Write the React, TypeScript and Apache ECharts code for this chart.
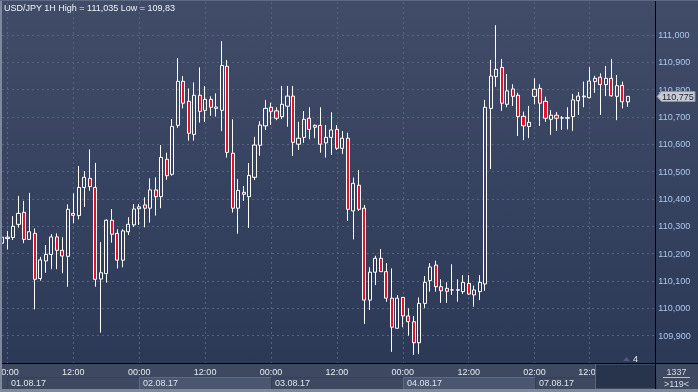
import React, { useEffect, useRef } from 'react';
import * as echarts from 'echarts';

const FONT = '"Liberation Sans", Arial, sans-serif';

// trading sessions: [date, first hour, last hour]
const sessions: [string, number, number][] = [
  ['31.07.17', 23, 23],
  ['01.08.17', 0, 23],
  ['02.08.17', 0, 23],
  ['03.08.17', 0, 23],
  ['04.08.17', 0, 23],
  ['07.08.17', 2, 23],
  ['08.08.17', 0, 0],
];

const timeTicks = [
  '01.08.17 00:00', '01.08.17 12:00', '02.08.17 00:00', '02.08.17 12:00',
  '03.08.17 00:00', '03.08.17 12:00', '04.08.17 00:00', '04.08.17 12:00',
  '07.08.17 02:00', '07.08.17 12:00',
];
const dateLabels = ['01.08.17', '02.08.17', '03.08.17', '04.08.17', '07.08.17'];
const priceTicks = [109.9, 110.0, 110.1, 110.2, 110.3, 110.4, 110.5, 110.6, 110.7, 110.8, 110.9, 111.0];

const openP = [
  110.238, 110.255, 110.259, 110.307, 110.351, 110.252, 110.274, 110.109, 110.173, 110.197,
  110.261, 110.212, 110.190, 110.347, 110.339, 110.442, 110.475, 110.442, 110.107, 110.127,
  110.322, 110.274, 110.176, 110.280, 110.305, 110.364, 110.378, 110.366, 110.433, 110.408,
  110.545, 110.490, 110.669, 110.830, 110.757, 110.636, 110.779, 110.724, 110.764, 110.731,
  110.724, 110.885, 110.567, 110.366, 110.424, 110.408, 110.479, 110.596, 110.667, 110.735,
  110.722, 110.701, 110.739, 110.776, 110.600, 110.625, 110.695, 110.662, 110.669, 110.605,
  110.625, 110.654, 110.585, 110.622, 110.356, 110.450, 110.366, 110.030, 110.132, 110.183,
  110.134, 110.037, 109.927, 110.040, 109.972, 109.951, 109.874, 110.018, 110.101, 110.158,
  110.079, 110.073, 110.067, 110.066, 110.061, 110.091, 110.049, 110.061, 110.089, 110.731,
  110.847, 110.881, 110.746, 110.802, 110.779, 110.702, 110.665, 110.775, 110.804, 110.757,
  110.691, 110.706, 110.696, 110.695, 110.701, 110.759, 110.773, 110.770, 110.829, 110.845,
  110.818, 110.841, 110.775, 110.815, 110.755,
];
const closeP = [
  110.260, 110.260, 110.300, 110.347, 110.252, 110.280, 110.106, 110.177, 110.197, 110.261,
  110.212, 110.191, 110.362, 110.340, 110.442, 110.479, 110.445, 110.106, 110.130, 110.322,
  110.271, 110.176, 110.283, 110.307, 110.363, 110.371, 110.366, 110.433, 110.408, 110.552,
  110.485, 110.665, 110.830, 110.750, 110.640, 110.779, 110.720, 110.764, 110.735, 110.736,
  110.888, 110.570, 110.366, 110.431, 110.417, 110.486, 110.597, 110.670, 110.731, 110.720,
  110.695, 110.746, 110.776, 110.607, 110.622, 110.691, 110.654, 110.669, 110.600, 110.625,
  110.652, 110.585, 110.622, 110.362, 110.457, 110.362, 110.030, 110.132, 110.183, 110.134,
  110.037, 109.931, 110.037, 109.972, 109.951, 109.874, 110.018, 110.095, 110.151, 110.079,
  110.064, 110.062, 110.067, 110.068, 110.095, 110.052, 110.067, 110.095, 110.735, 110.849,
  110.874, 110.750, 110.795, 110.775, 110.701, 110.667, 110.680, 110.801, 110.750, 110.695,
  110.706, 110.695, 110.696, 110.697, 110.762, 110.776, 110.776, 110.831, 110.841, 110.818,
  110.841, 110.777, 110.814, 110.755, 110.775,
];
const lowP = [
  110.235, 110.215, 110.250, 110.295, 110.238, 110.251, 109.996, 110.101, 110.130, 110.143,
  110.143, 110.128, 110.079, 110.311, 110.325, 110.371, 110.430, 110.079, 109.911, 110.094,
  110.240, 110.146, 110.150, 110.268, 110.297, 110.305, 110.296, 110.313, 110.339, 110.366,
  110.470, 110.485, 110.660, 110.731, 110.613, 110.613, 110.679, 110.682, 110.704, 110.701,
  110.648, 110.551, 110.350, 110.273, 110.393, 110.294, 110.469, 110.558, 110.652, 110.670,
  110.688, 110.692, 110.664, 110.557, 110.579, 110.605, 110.618, 110.622, 110.569, 110.551,
  110.561, 110.579, 110.564, 110.320, 110.252, 110.356, 109.943, 109.994, 110.085, 110.133,
  110.024, 109.841, 109.926, 109.931, 109.900, 109.830, 109.832, 110.000, 110.061, 110.061,
  110.020, 110.020, 110.049, 110.024, 110.052, 110.049, 110.006, 110.030, 110.064, 110.509,
  110.810, 110.722, 110.735, 110.740, 110.630, 110.615, 110.622, 110.746, 110.667, 110.682,
  110.634, 110.649, 110.652, 110.654, 110.648, 110.707, 110.735, 110.768, 110.788, 110.707,
  110.776, 110.774, 110.688, 110.731, 110.737,
];
const highP = [
  110.263, 110.283, 110.337, 110.411, 110.393, 110.422, 110.292, 110.188, 110.231, 110.271,
  110.274, 110.260, 110.380, 110.420, 110.520, 110.502, 110.581, 110.532, 110.242, 110.325,
  110.363, 110.289, 110.289, 110.333, 110.381, 110.381, 110.406, 110.475, 110.479, 110.597,
  110.569, 110.692, 110.915, 110.849, 110.804, 110.826, 110.881, 110.812, 110.775, 110.786,
  110.977, 110.908, 110.691, 110.473, 110.447, 110.531, 110.627, 110.684, 110.762, 110.752,
  110.735, 110.813, 110.813, 110.813, 110.682, 110.721, 110.735, 110.672, 110.735, 110.670,
  110.717, 110.670, 110.648, 110.642, 110.478, 110.506, 110.378, 110.150, 110.192, 110.217,
  110.165, 110.146, 110.048, 110.041, 110.000, 109.972, 110.040, 110.118, 110.165, 110.174,
  110.106, 110.095, 110.161, 110.106, 110.121, 110.121, 110.083, 110.121, 110.762, 110.908,
  111.035, 110.912, 110.857, 110.819, 110.788, 110.719, 110.740, 110.841, 110.819, 110.774,
  110.725, 110.718, 110.703, 110.735, 110.784, 110.791, 110.829, 110.883, 110.850, 110.859,
  110.886, 110.912, 110.853, 110.829, 110.776,
];

const titleText = 'USD/JPY 1H High = 111,035 Low = 109,83';
const totalBars = '1337';
const visibleBars = '>119<';
const badgeText = '4';

const categories: string[] = [];
for (const [day, from, to] of sessions) {
  for (let h = from; h <= to; h++) categories.push(`${day} ${h < 10 ? '0' + h : h}:00`);
}

const fmtPrice = (v: number) => v.toFixed(3).replace('.', ',');
const isTick = (_i: number, v: string) => timeTicks.includes(v);

export default function App() {
  const ref = useRef<HTMLDivElement>(null);
  useEffect(() => {
    if (!ref.current) return;
    const chart = echarts.init(ref.current, undefined, { renderer: 'svg' });
    const candles = openP.map((o, i) => [o, closeP[i], lowP[i], highP[i]]);
    chart.setOption({
      animation: false,
      grid: { left: 2, right: 42.7, top: 2, bottom: 29, containLabel: false, outerBoundsMode: 'none' },
      xAxis: {
        type: 'category',
        data: categories,
        boundaryGap: false,
        axisLine: { show: false },
        axisTick: { show: false },
        axisLabel: {
          interval: isTick,
          formatter: (v: string) => v.slice(9),
          color: '#e6e9ee',
          fontSize: 9,
          fontFamily: FONT,
          margin: 4,
        },
        splitLine: { show: true, interval: isTick, lineStyle: { color: '#56637e', type: [2, 3], width: 1 } },
      },
      yAxis: {
        type: 'value',
        position: 'right',
        min: 109.8,
        max: 111.12,
        interval: 0.1,
        axisLine: { show: false },
        axisTick: { show: false },
        splitLine: { show: false },
        axisLabel: {
          formatter: (v: number) => (v > 109.85 && v < 111.05 ? fmtPrice(v) : ''),
          color: '#a9c8ee',
          fontSize: 9,
          fontFamily: FONT,
          margin: 3,
        },
      },
      series: [
        {
          type: 'candlestick',
          data: candles,
          barWidth: 3.6,
          clip: true,
          silent: true,
          z: 2,
          itemStyle: {
            color: 'transparent',
            color0: '#e3102e',
            borderColor: '#ffffff',
            borderColor0: '#ffffff',
            borderWidth: 1,
          },
          markLine: {
            z: 1,
            silent: true,
            symbol: ['none', 'none'],
            label: { show: false },
            lineStyle: { color: '#56637e', type: [2, 3], width: 1 },
            data: priceTicks.map((v) => ({ yAxis: v })),
          },
        },
      ],
    });

    const px = (i: number) => chart.convertToPixel({ xAxisIndex: 0 }, i) as number;
    const firstIdx = (d: string) => categories.findIndex((c) => c.startsWith(d));
    const elements: any[] = [
      {
        type: 'rect', z: -100, silent: true,
        shape: { x: 0, y: 0, width: 698, height: 392 },
        style: {
          fill: new echarts.graphic.LinearGradient(0, 0, 0, 1, [
            { offset: 0, color: '#404c68' },
            { offset: 1, color: '#2b3855' },
          ]),
        },
      },
      { type: 'rect', z: -50, silent: true, shape: { x: 0, y: 363, width: 698, height: 29 }, style: { fill: '#3e4961' } },
    ];
    const allDays = sessions.map((s) => s[0]);
    dateLabels.forEach((d, i) => {
      const x0 = px(firstIdx(d));
      const nextDay = allDays[allDays.indexOf(d) + 1];
      const x1 = px(firstIdx(nextDay));
      const hi = i % 2 === 1;
      elements.push({
        type: 'rect', z: -40, silent: true,
        shape: { x: Math.round(x0) + 0.5, y: 377.5, width: Math.round(x1 - x0), height: 12 },
        style: { fill: hi ? '#4b5671' : 'transparent', stroke: hi ? '#5d6984' : '#34405a', lineWidth: 1 },
      });
      elements.push({
        type: 'text', z: -30, silent: true, x: Math.round(x0) + 4, y: 383,
        style: { text: d, fill: '#dde2ea', fontSize: 9, fontFamily: FONT, verticalAlign: 'middle' },
      });
    });
    const lastClose = closeP[closeP.length - 1];
    const yTag = Math.round(chart.convertToPixel({ yAxisIndex: 0 }, lastClose) as number) + 0.5;
    elements.push(
      { type: 'rect', z: 40, silent: true, shape: { x: 595.5, y: 364, width: 60, height: 25 }, style: { fill: '#28334c', stroke: '#5a6680', lineWidth: 1 } },
      { type: 'line', z: 50, silent: true, shape: { x1: 0, y1: 363.5, x2: 698, y2: 363.5 }, style: { stroke: '#000000', lineWidth: 1 } },
      { type: 'line', z: 50, silent: true, shape: { x1: 655.5, y1: 0, x2: 655.5, y2: 392 }, style: { stroke: '#000000', lineWidth: 1 } },
      { type: 'rect', z: 60, silent: true, shape: { x: 0, y: 389, width: 698, height: 3 }, style: { fill: '#7e899d' } },
      { type: 'rect', z: 60, silent: true, shape: { x: 0, y: 0, width: 2, height: 392 }, style: { fill: '#7e899d' } },
      { type: 'rect', z: 60, silent: true, shape: { x: 0, y: 0, width: 698, height: 1 }, style: { fill: '#5d6981' } },
      {
        type: 'text', z: 60, silent: true, x: 4, y: 7.5,
        style: { text: titleText, fill: '#eef1f5', fontSize: 9, fontFamily: FONT, verticalAlign: 'middle' },
      },
      {
        type: 'polygon', z: 55, silent: true,
        shape: { points: [[623, 361], [630, 361], [626.5, 357]] },
        style: { fill: '#4f5b76' },
      },
      {
        type: 'text', z: 55, silent: true, x: 633, y: 358.5,
        style: { text: badgeText, fill: '#e6e9ee', fontSize: 9, fontFamily: FONT, verticalAlign: 'middle' },
      },
      {
        type: 'text', z: 55, silent: true, x: 676.5, y: 372,
        style: { text: totalBars, fill: '#d6dbe3', fontSize: 9, fontFamily: FONT, align: 'center', verticalAlign: 'middle' },
      },
      { type: 'line', z: 55, silent: true, shape: { x1: 663, y1: 377.5, x2: 690, y2: 377.5 }, style: { stroke: '#b9c0cb', lineWidth: 1 } },
      {
        type: 'text', z: 55, silent: true, x: 676.5, y: 384,
        style: { text: visibleBars, fill: '#d6dbe3', fontSize: 9, fontFamily: FONT, align: 'center', verticalAlign: 'middle' },
      },
      {
        type: 'polygon', z: 70, silent: true,
        shape: { points: [[657, yTag], [661.5, yTag - 5], [695, yTag - 5], [695, yTag + 5], [661.5, yTag + 5]] },
        style: { fill: '#c6cbd3', stroke: '#8b93a1', lineWidth: 1 },
      },
      {
        type: 'text', z: 71, silent: true, x: 662, y: yTag,
        style: { text: fmtPrice(lastClose), fill: '#1a2132', fontSize: 9, fontFamily: FONT, verticalAlign: 'middle' },
      },
    );
    chart.setOption({ graphic: { elements } });
    return () => chart.dispose();
  }, []);
  return <div ref={ref} style={{ position: 'fixed', left: 0, top: 0, width: 698, height: 392 }} />;
}
